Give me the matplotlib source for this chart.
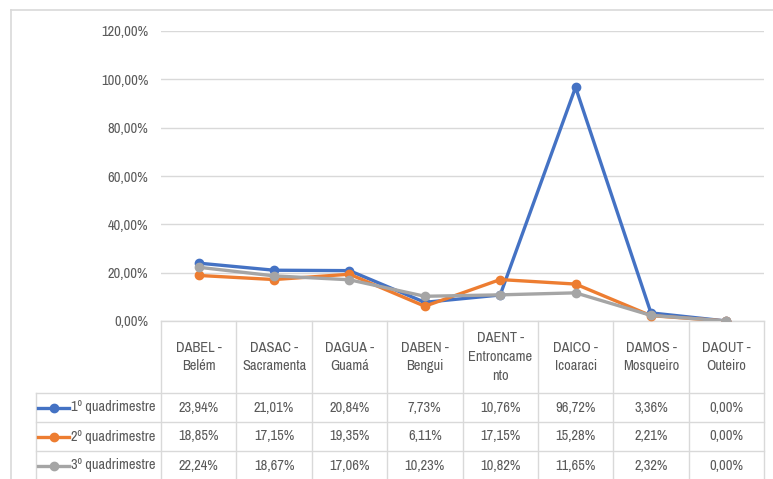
import matplotlib.pyplot as plt
from matplotlib.transforms import blended_transform_factory
from matplotlib.lines import Line2D
from matplotlib import font_manager

# narrow font close to Calibri if one is around
fonts = font_manager.fontManager.ttflist
narrow = [f.name for f in fonts if 'Narrow' in f.name or 'Condensed' in f.name]
if narrow:
    plt.rcParams['font.family'] = [narrow[0], 'DejaVu Sans']
    fs = 10.4
else:
    plt.rcParams['font.family'] = ['DejaVu Sans']
    plt.rcParams['font.stretch'] = 'condensed'
    fs = 8.6

categorias = ['DABEL -\nBelém', 'DASAC -\nSacramenta', 'DAGUA -\nGuamá', 'DABEN -\nBengui',
              'DAENT -\nEntroncame\nnto', 'DAICO -\nIcoaraci', 'DAMOS -\nMosqueiro', 'DAOUT -\nOuteiro']
series = ['1º quadrimestre', '2º quadrimestre', '3º quadrimestre']
q1 = [23.94, 21.01, 20.84, 7.73, 10.76, 96.72, 3.36, 0.00]
q2 = [18.85, 17.15, 19.35, 6.11, 17.15, 15.28, 2.21, 0.00]
q3 = [22.24, 18.67, 17.06, 10.23, 10.82, 11.65, 2.32, 0.00]
cores = ['#4472C4', '#ED7D31', '#A5A5A5']
valores = [q1, q2, q3]

W, H = 773, 479
fig = plt.figure(figsize=(W / 100, H / 100), dpi=100)
ax = fig.add_axes([161 / W, 1 - 321 / H, (764 - 161) / W, 290 / H])

grid = '#D9D9D9'
txt = '#595959'
x = list(range(len(categorias)))
for vals, cor in zip(valores, cores):
    ax.plot(x, [v / 100 for v in vals], color=cor, lw=2.4, marker='o', ms=6,
            solid_capstyle='round', zorder=3)

ax.set_xlim(-0.5, len(categorias) - 0.5)
ax.set_ylim(0, 1.2)
ticks = [i * 0.2 for i in range(7)]
ax.set_yticks(ticks)
ax.set_yticklabels([f'{t * 100:.2f}%'.replace('.', ',') for t in ticks], color=txt, fontsize=fs)
ax.tick_params(axis='y', length=0, pad=9)
ax.set_xticks([])
for s in ax.spines.values():
    s.set_visible(False)
ax.grid(axis='y', color=grid, lw=1)
ax.set_axisbelow(True)

# data table under the axis
tr = blended_transform_factory(ax.transData, ax.transAxes)
px = 1 / 290
y_cat = -72 * px
row_h = 29 * px
x_leg = -0.5 - 125 / 75.4
x_end = len(categorias) - 0.5
def hline(y, x0, x1):
    ax.add_line(Line2D([x0, x1], [y, y], transform=tr, color=grid, lw=1, clip_on=False))
def vline(xx, y0, y1):
    ax.add_line(Line2D([xx, xx], [y0, y1], transform=tr, color=grid, lw=1, clip_on=False))

y_bot = y_cat - 3 * row_h - 0.05
hline(0, -0.5, x_end)
for i in range(4):
    hline(y_cat - i * row_h, x_leg, x_end)
for i in range(len(categorias) + 1):
    vline(i - 0.5, 0, y_bot)
vline(x_leg, y_cat, y_bot)

for i, c in enumerate(categorias):
    ax.text(i, y_cat / 2, c, transform=tr, ha='center', va='center', color=txt,
            fontsize=fs, linespacing=1.45)

for r, (nome, vals, cor) in enumerate(zip(series, valores, cores)):
    yc = y_cat - (r + 0.5) * row_h
    ax.add_line(Line2D([x_leg + 0.03, x_leg + 0.44], [yc, yc], transform=tr, color=cor,
                       lw=2.4, clip_on=False))
    ax.add_line(Line2D([x_leg + 0.235], [yc], transform=tr, color=cor, marker='o', ms=6,
                       clip_on=False))
    ax.text(x_leg + 0.46, yc, nome, transform=tr, ha='left', va='center', color=txt, fontsize=fs)
    for i, v in enumerate(vals):
        ax.text(i, yc, f'{v:.2f}%'.replace('.', ','), transform=tr, ha='center', va='center',
                color=txt, fontsize=fs)

# chart border
fig.add_artist(Line2D([11 / W, 11 / W], [0, 1 - 10 / H], color=grid, lw=1.2))
fig.add_artist(Line2D([11 / W, 1], [1 - 10 / H, 1 - 10 / H], color=grid, lw=1.2))

fig.savefig('out.png', dpi=100)
